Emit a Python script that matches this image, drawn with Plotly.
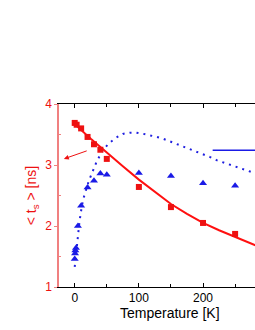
import plotly.graph_objects as go

# measured tau_s (red squares)
t_red = [0, 3, 10, 20, 30, 40, 50, 100, 150, 200, 250]
tau_red = [3.69, 3.66, 3.60, 3.46, 3.34, 3.25, 3.10, 2.64, 2.31, 2.05, 1.87]

# fit curve (red line)
t_fit = [-3, 0, 25, 50, 75, 100, 125, 150, 175, 200, 225, 250, 285]
tau_fit = [3.71, 3.67, 3.43, 3.20, 2.98, 2.76, 2.56, 2.36, 2.20, 2.05, 1.93, 1.82, 1.67]

# blue triangles
t_blue = [0, 0.5, 1, 2, 5, 10, 20, 30, 40, 50, 100, 150, 200, 250]
val_blue = [1.46, 1.55, 1.60, 1.64, 2.00, 2.33, 2.63, 2.74, 2.86, 2.84, 2.87, 2.82, 2.70, 2.66]

# blue dotted curve
t_dot = [0, 2.5, 5, 7.5, 10, 13, 22, 34, 44, 55, 65, 75, 86, 96, 107, 117, 128, 138,
         148, 159, 169, 180, 190, 200, 211, 221, 232, 242, 253, 263, 273, 285]
val_dot = [1.33, 1.62, 1.88, 2.08, 2.25, 2.43, 2.74, 3.05, 3.25, 3.37, 3.45, 3.51, 3.53,
           3.53, 3.51, 3.49, 3.46, 3.43, 3.39, 3.34, 3.30, 3.26, 3.21, 3.17, 3.13, 3.08,
           3.04, 3.00, 2.96, 2.92, 2.89, 2.85]

x_ticks = [0, 100, 200]
y_ticks = [1, 2, 3, 4]

fig = go.Figure()
fig.add_trace(go.Scatter(x=t_dot, y=val_dot, mode="lines",
                         line=dict(color="#1f1fe0", width=2, dash="2px,5px"),
                         hoverinfo="skip"))
fig.add_trace(go.Scatter(x=t_fit, y=tau_fit, mode="lines",
                         line=dict(color="#ff1010", width=2)))
fig.add_trace(go.Scatter(x=t_red, y=tau_red, mode="markers",
                         marker=dict(symbol="square", size=6, color="#ee1111")))
fig.add_trace(go.Scatter(x=t_blue, y=val_blue, mode="markers",
                         marker=dict(symbol="triangle-up", size=7, color="#1a1ae6")))

# legend sample line (legend text lies outside view)
fig.add_shape(type="line", xref="x", yref="y", x0=215, x1=300, y0=3.24, y1=3.24,
              line=dict(color="#1a1ae6", width=1.5))

fig.add_annotation(x=-17, y=3.10, ax=21, ay=3.24, axref="x", ayref="y",
                   xref="x", yref="y", text="", showarrow=True,
                   arrowhead=2, arrowsize=1, arrowwidth=1, arrowcolor="#ee1111")

fig.add_annotation(text="Temperature [K]", xref="paper", yref="paper",
                   x=(170 - 59) / (255 - 59), y=-0.09, yanchor="top",
                   showarrow=False,
                   font=dict(family="Liberation Sans, Arial", size=14, color="black"))

fig.update_layout(
    width=255, height=330,
    margin=dict(l=59, r=0, t=104, b=43),
    paper_bgcolor="white", plot_bgcolor="white",
    showlegend=False,
    font=dict(family="Liberation Sans, Arial", size=12, color="black"),
    xaxis=dict(range=[-24.5, 281], tickvals=x_ticks, ticks="inside", ticklen=4,
               tickcolor="black", showline=True, linecolor="black", linewidth=1,
               mirror="ticks", showgrid=False, zeroline=False,
               minor=dict(tickvals=[50, 150, 250], ticks="inside", ticklen=3,
                          tickcolor="black"),
               tickfont=dict(size=12, color="black")),
    yaxis=dict(range=[1, 4], tickvals=y_ticks, ticks="outside", ticklen=3,
               tickcolor="#f08080", showline=True, linecolor="#f08080", linewidth=1.5,
               showgrid=False, zeroline=False,
               minor=dict(tickvals=[1.5, 2.5, 3.5], ticks="inside", ticklen=2,
                          tickcolor="#f08080"),
               tickfont=dict(size=12, color="#ee1111"),
               title=dict(text="< t<sub>s</sub> > [ns]", standoff=5,
                          font=dict(size=14, color="#ee1111"))),
)

fig.write_html("out.html", config={"responsive": False, "displayModeBar": False},
               post_script="document.body.style.margin='0';document.body.style.overflow='hidden';")
